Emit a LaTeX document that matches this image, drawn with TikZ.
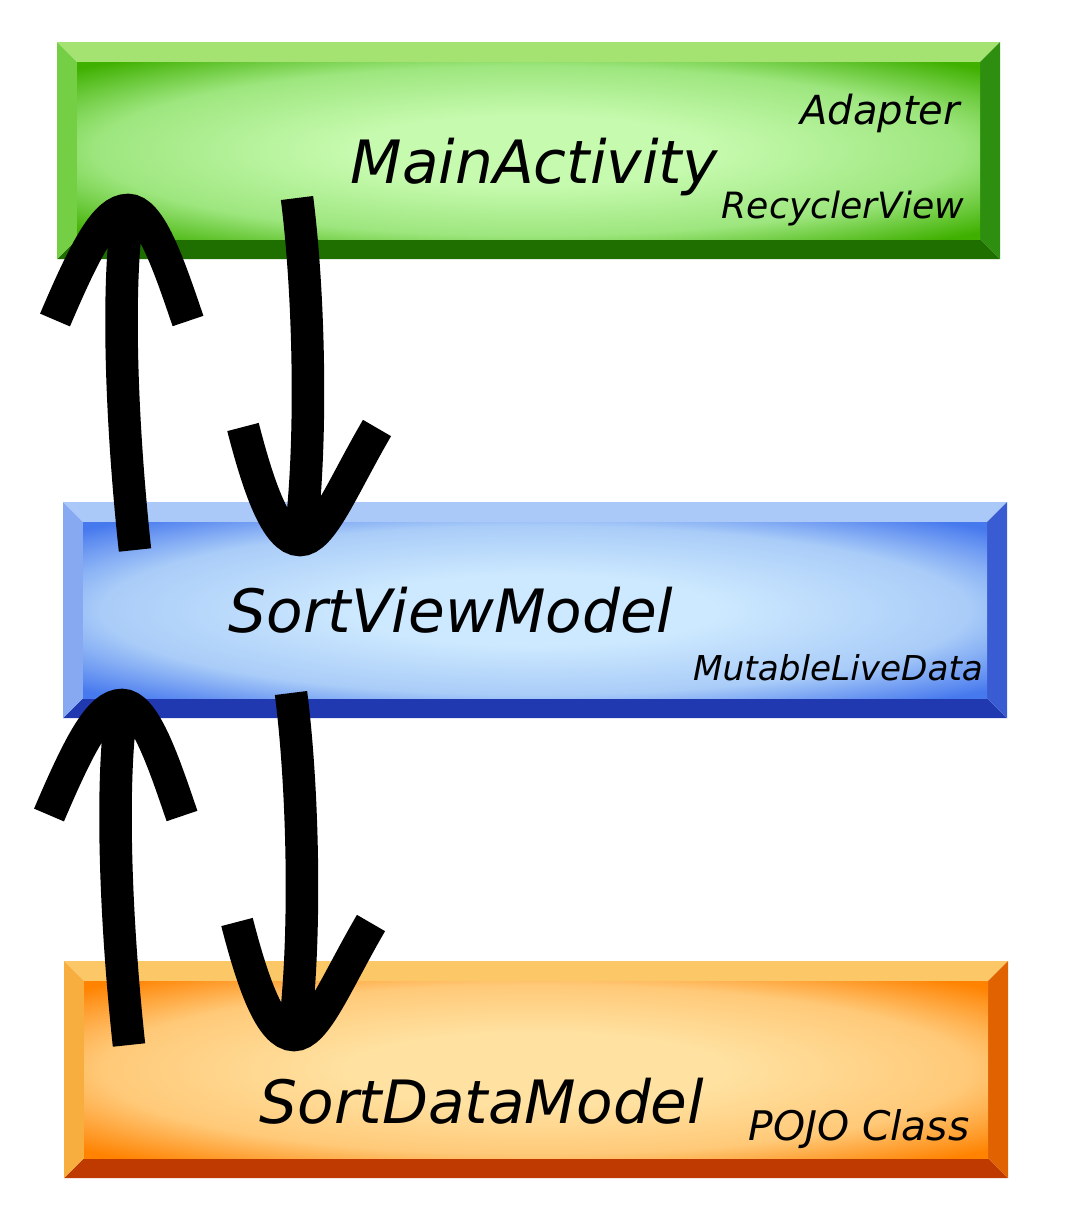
\documentclass[tikz,border=0pt]{standalone}
\usepackage{fontspec}
\setmainfont{DejaVu Sans}
\usepackage{tikz}

%Colors
\definecolor{gtop}{HTML}{A4E272}
\definecolor{gleft}{HTML}{74CF44}
\definecolor{gbottom}{HTML}{1F6F00}
\definecolor{gright}{HTML}{2E8E10}
\definecolor{gface1}{HTML}{C6FAAE}
\definecolor{gface2}{HTML}{9DE67E}
\definecolor{gface3}{HTML}{3FB000}
\definecolor{btop}{HTML}{ABC9F8}
\definecolor{bleft}{HTML}{86A9F2}
\definecolor{bbottom}{HTML}{2038B0}
\definecolor{bright}{HTML}{3A5CD2}
\definecolor{bface1}{HTML}{CDE9FF}
\definecolor{bface2}{HTML}{A9CCF8}
\definecolor{bface3}{HTML}{4678EE}
\definecolor{otop}{HTML}{FBC767}
\definecolor{oleft}{HTML}{F7AE3E}
\definecolor{obottom}{HTML}{BF3A00}
\definecolor{oright}{HTML}{E06200}
\definecolor{oface1}{HTML}{FFE2A2}
\definecolor{oface2}{HTML}{FFC978}
\definecolor{oface3}{HTML}{FF8200}

\pgfdeclareradialshading{gface}{\pgfpoint{0bp}{0bp}}{color(0bp)=(gface1); color(10bp)=(gface1); color(24bp)=(gface2); color(34bp)=(gface3); color(50bp)=(gface3)}
\pgfdeclareradialshading{bface}{\pgfpoint{0bp}{0bp}}{color(0bp)=(bface1); color(10bp)=(bface1); color(24bp)=(bface2); color(34bp)=(bface3); color(50bp)=(bface3)}
\pgfdeclareradialshading{oface}{\pgfpoint{0bp}{0bp}}{color(0bp)=(oface1); color(10bp)=(oface1); color(24bp)=(oface2); color(34bp)=(oface3); color(50bp)=(oface3)}

%bevelled box: colour prefix, outer corners x1 y1 x2 y2
\newcommand{\glassbox}[5]{%
	\fill[#1top] (#2,#3) -- (#4,#3) -- (#4-20,#3+20) -- (#2+20,#3+20) -- cycle;
	\fill[#1bottom] (#2,#5) -- (#4,#5) -- (#4-20,#5-20) -- (#2+20,#5-20) -- cycle;
	\fill[#1left] (#2,#3) -- (#2+20,#3+20) -- (#2+20,#5-20) -- (#2,#5) -- cycle;
	\fill[#1right] (#4,#3) -- (#4-20,#3+20) -- (#4-20,#5-20) -- (#4,#5) -- cycle;
	\shade[shading=#1face] (#2+20,#3+20) rectangle (#4-20,#5-20);
}

\begin{document}
\begin{tikzpicture}
		[x=0.02cm,y=-0.02cm,
		%Styles
		fat arrow/.style={line width=18.5pt,line cap=butt},
		title text/.style={inner sep=0pt,anchor=base,font=\fontsize{34}{40}\selectfont\itshape},
		note text/.style={inner sep=0pt,anchor=base,font=\fontsize{#1}{#1}\selectfont\itshape}
		]
		\useasboundingbox (0,0) rectangle (1067,1228);
		
		%The boxes
		\glassbox{g}{57}{42}{1000}{259}
		\glassbox{b}{63}{502}{1007}{718}
		\glassbox{o}{64}{961}{1008}{1178}
		
		%The labels
		\node[title text] (main) at (534,183) {MainActivity};
		\node[note text=22.8] (adapter) at (880,124) {Adapter};
		\node[note text=20.6] (recycler) at (843,218) {RecyclerView};
		\node[title text] (viewmodel) at (451,632) {SortViewModel};
		\node[note text=19.5] (livedata) at (838,680) {MutableLiveData};
		\node[title text] (datamodel) at (482,1123) {SortDataModel};
		\node[note text=23.2] (pojo) at (859,1140) {POJO Class};
		
		%The arrows
		\foreach \dx/\dy/\i in {0/0/1,-6/495/2}{
			\begin{scope}[shift={(\dx,\dy)}]
				\coordinate (up\i tail) at (135,550);
				\coordinate (up\i tip) at (128,210);
				\coordinate (down\i tail) at (297,198);
				\coordinate (down\i tip) at (300,540);
				\draw[fat arrow] (up\i tail) .. controls (122,430) and (116,290) .. (up\i tip)
					(55,320) .. controls (85,250) and (105,210) .. (up\i tip)
					.. controls (150,210) and (168,262) .. (188,321);
				\draw[fat arrow] (down\i tail) .. controls (310,300) and (312,450) .. (down\i tip)
					(243,427) .. controls (258,485) and (276,540) .. (down\i tip)
					.. controls (322,540) and (342,488) .. (377,428);
			\end{scope}
		}
	\end{tikzpicture}
\end{document}
